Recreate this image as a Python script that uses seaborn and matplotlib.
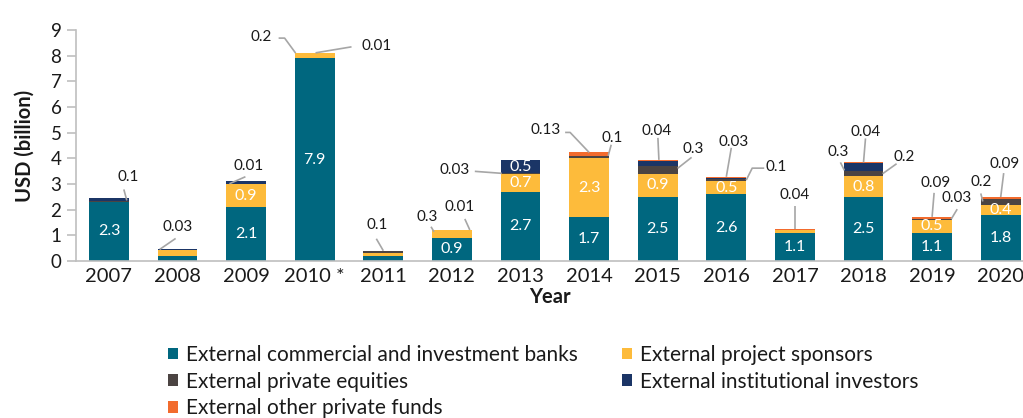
import numpy as np
import pandas as pd
import matplotlib
matplotlib.use("Agg")
import matplotlib.pyplot as plt
from matplotlib.patches import Patch
import seaborn as sns

# ---------------- data ----------------
years = ["2007", "2008", "2009", "2010 *", "2011", "2012", "2013",
         "2014", "2015", "2016", "2017", "2018", "2019", "2020"]
banks = [2.3, 0.2, 2.1, 7.9, 0.2, 0.9, 2.7, 1.7, 2.5, 2.6, 1.1, 2.5, 1.1, 1.8]
sponsors = [0.0, 0.22, 0.9, 0.2, 0.1, 0.3, 0.7, 2.3, 0.9, 0.5, 0.12, 0.8, 0.5, 0.4]
private_equities = [0.04, 0.0, 0.01, 0.0, 0.1, 0.0, 0.03, 0.1, 0.3, 0.1, 0.0, 0.2, 0.03, 0.2]
institutional = [0.1, 0.03, 0.1, 0.01, 0.0, 0.01, 0.5, 0.0, 0.2, 0.05, 0.0, 0.3, 0.0, 0.0]
other_funds = [0.0, 0.0, 0.0, 0.0, 0.0, 0.0, 0.0, 0.13, 0.04, 0.03, 0.04, 0.04, 0.09, 0.09]

series_names = ["External commercial and investment banks",
                "External project sponsors",
                "External private equities",
                "External institutional investors",
                "External other private funds"]
series_keys = ["banks", "sponsors", "pe", "inst", "other"]
series_vals = [banks, sponsors, private_equities, institutional, other_funds]
colors = ["#00677F", "#FDBB3B", "#4B4442", "#1B3566", "#F26B2D"]

# callouts: (year index, series key, anchor x frac in bar, anchor y frac in segment,
#            text offset px, leader path offsets px)
callouts = [
    (0, "inst", 0.45, 0.2, (1, 23), [(-3, 11)]),
    (1, "inst", -0.45, 1.0, (18, 22), [(16, 11)]),
    (2, "pe", -0.42, 1.0, (19, 18), [(16, 7)]),
    (3, "sponsors", -0.48, 1.0, (-34, 16), [(-11, 15), (-17, 15)]),
    (3, "inst", 0.02, 1.0, (61, 7), [(36, 6)]),
    (4, "pe", 0.0, 1.0, (-6, 26), [(-7, 12)]),
    (5, "sponsors", -0.45, 0.8, (-7, 15), [(-3, 5)]),
    (5, "inst", 0.45, 1.0, (-10, 23), [(-5, 11)]),
    (6, "pe", -0.47, 0.5, (-47, 3), [(-27, 2)]),
    (7, "other", 0.0, 1.0, (-43, 22), [(-19, 20), (-24, 20)]),
    (7, "pe", 0.48, 1.0, (4, 18), [(3, 11)]),
    (8, "other", 0.03, 1.0, (-2, 29), [(-1, 22)]),
    (8, "pe", 0.5, 0.7, (16, 19), [(14, 11)]),
    (9, "other", 0.0, 1.0, (7, 35), [(5, 29)]),
    (9, "pe", 0.5, 0.5, (30, 13), [(6, 12), (18, 12)]),
    (10, "other", 0.0, 1.0, (0, 34), [(0, 23)]),
    (11, "inst", -0.48, 0.1, (-6, 18), [(-4, 8)]),
    (11, "other", 0.0, 1.0, (2, 30), [(2, 24)]),
    (11, "pe", 0.48, 0.5, (22, 17), [(14, 10)]),
    (12, "other", 0.0, 1.0, (4, 34), [(2, 24)]),
    (12, "pe", 0.48, 1.0, (5, 21), [(6, 10)]),
    (13, "pe", -0.45, 0.6, (-2, 19), [(-2, 8)]),
    (13, "other", 0.0, 1.0, (4, 33), [(3, 24)]),
]

# ---------------- style ----------------
sns.set_style("white")
plt.rcParams["font.family"] = ["Lato", "DejaVu Sans"]
text_color = "#1A1A1A"
axis_color = "#BFBFBF"
leader_color = "#A6A6A6"

W, H = 1023, 418
fig = plt.figure(figsize=(W / 100, H / 100), dpi=100)
ax = fig.add_axes([76 / W, 1 - 261 / H, 959 / W, 231 / H])

BAR_W = 0.58
cum = np.cumsum(np.array(series_vals), axis=0)   # shape (5, n)
df = pd.DataFrame({"year": years})
for k in range(len(series_vals) - 1, -1, -1):
    df["v"] = cum[k]
    sns.barplot(data=df, x="year", y="v", color=colors[k], saturation=1,
                width=BAR_W, errorbar=None, ax=ax, order=years,
                edgecolor="none", linewidth=0)

ax.set_xlim(-0.48, len(years) - 0.5)
ax.set_ylim(0, 9)
ax.set_yticks(range(0, 10))
ax.set_xlabel("")
ax.set_ylabel("")
for s in ["top", "right"]:
    ax.spines[s].set_visible(False)
for s in ["left", "bottom"]:
    ax.spines[s].set_color(axis_color)
    ax.spines[s].set_linewidth(1.2)
ax.tick_params(axis="y", length=6.5, width=1.2, color=axis_color, pad=4,
               labelsize=13.5, labelcolor=text_color, left=True)
ax.tick_params(axis="x", length=0, pad=5, labelsize=14.5, labelcolor=text_color)

# inside labels
for k, vals in enumerate(series_vals):
    for i, v in enumerate(vals):
        if v >= 0.4:
            mid = cum[k][i] - v / 2
            ax.text(i, mid, f"{v:g}", ha="center", va="center", color="white",
                    fontsize=11.5)

# callouts
fig.canvas.draw()
trans = ax.transData
inv = trans.inverted()
key_idx = {k: j for j, k in enumerate(series_keys)}
for (i, key, fx, fy, toff, path) in callouts:
    j = key_idx[key]
    v = series_vals[j][i]
    base = cum[j][i] - v
    ay = base + v * fy
    axp = i + fx * BAR_W
    px, py = trans.transform((axp, ay))
    pts = [(px, py)] + [(px + dx, py + dy) for dx, dy in path]
    data_pts = inv.transform(np.array(pts))
    ax.plot(data_pts[:, 0], data_pts[:, 1], color=leader_color, lw=1.2,
            solid_capstyle="butt", clip_on=False, zorder=5)
    tx, ty = inv.transform((px + toff[0], py + toff[1]))
    ax.text(tx, ty, f"{v:g}", ha="center", va="center", fontsize=11,
            color=text_color, clip_on=False, zorder=6)

# axis titles
fig.text(25 / W, 1 - 146 / H, "USD (billion)", rotation=90, ha="center",
         va="center", fontsize=14.5, fontweight="bold", color=text_color)
fig.text(550 / W, 1 - 297 / H, "Year", ha="center", va="center",
         fontsize=14.5, fontweight="bold", color=text_color)

# legends (two columns placed independently)
handles = [Patch(facecolor=c, edgecolor="none") for c in colors]
leg_kw = dict(loc="upper left", frameon=False, handlelength=0.48,
              handleheight=0.48, handletextpad=0.38, labelspacing=0.32,
              borderpad=0, borderaxespad=0, labelcolor=text_color,
              prop={"family": "Lato", "size": 15})
fig.legend([handles[0], handles[2], handles[4]],
           [series_names[0], series_names[2], series_names[4]],
           bbox_to_anchor=(168 / W, 1 - 345 / H), **leg_kw)
fig.legend([handles[1], handles[3]],
           [series_names[1], series_names[3]],
           bbox_to_anchor=(622 / W, 1 - 345 / H), **leg_kw)

fig.savefig("out.png", dpi=100)
